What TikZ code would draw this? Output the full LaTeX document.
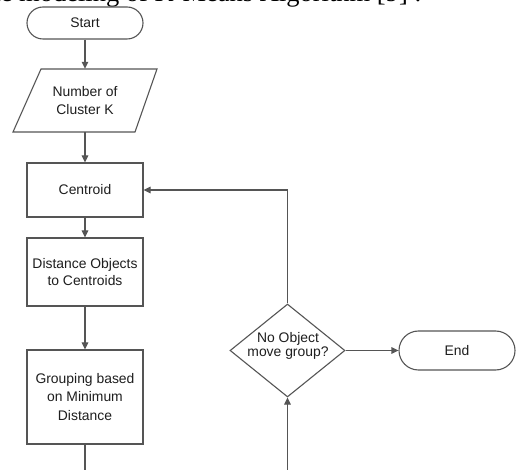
\documentclass[tikz,border=0pt]{standalone}
\usepackage{fontspec}
\setmainfont{Liberation Sans}
\newfontfamily\headfont{Liberation Serif}
\usetikzlibrary{arrows.meta,shapes.geometric,shapes.misc}
\definecolor{linec}{HTML}{555555}
\definecolor{textc}{HTML}{1E1E1E}
\begin{document}
\begin{tikzpicture}[x=1pt,y=-1pt,
  every node/.style={text=textc, font=\fontsize{13.9}{17.5}\selectfont},
  shapebox/.style={draw=linec, line width=1.1pt, inner sep=0pt},
  procbox/.style={shapebox, rectangle, minimum width=116pt, align=center},
  termbox/.style={shapebox, rounded rectangle, minimum width=116pt},
  conn/.style={draw=linec, line width=1.1pt},
  arr/.style={conn, -{Triangle[length=7pt,width=6.5pt]}}]
\useasboundingbox (0,0) rectangle (517,470);
\clip (0,0) rectangle (517,470);
\fill[white] (0,0) rectangle (517,470);
% clipped caption line
\node[anchor=base east, inner sep=0pt, text=black, font=\headfont\fontsize{26.5}{30}\selectfont] (caption) at (422,2) {The modeling of K-Means Algorithm [9] :};
% nodes
\node[termbox, minimum height=32pt] (start) at (85,23) {Start};
\node[inner sep=0pt, minimum height=63pt, minimum width=100pt, align=center] (num) at (85,100.5) {Number of\\Cluster K};
\draw[conn] (13,132) -- (41,69) -- (157,69) -- (135,132) -- cycle;
\node[procbox, minimum height=54pt] (cen) at (85,190) {Centroid};
\node[procbox, minimum height=68pt] (dist) at (85,272) {Distance Objects\\to Centroids};
\node[procbox, minimum height=94pt, font=\fontsize{13.9}{18.5}\selectfont] (grp) at (85,397) {Grouping based\\on Minimum\\Distance};
\node[shapebox, diamond, minimum width=115pt, minimum height=93pt] (dec) at (287.5,350.5) {};
\node[align=center, inner sep=0pt, font=\fontsize{13.9}{13.5}\selectfont] (dectext) at (288,346) {No Object\\move group?};
\node[termbox, minimum height=39pt] (end) at (457,350.5) {End};
\coordinate (gb) at (85,475);
\coordinate (db) at (287.5,475);
% connectors
\draw[arr] (start.south) -- (num.north);
\draw[arr] (num.south) -- (cen.north);
\draw[arr] (cen.south) -- (dist.north);
\draw[arr] (dist.south) -- (grp.north);
\draw[conn] (grp.south) -- (gb);
\draw[arr] (db) -- (dec.south);
\draw[arr] (dec.north) |- (cen.east);
\draw[arr] (dec.east) -- (end.west);
\end{tikzpicture}
\end{document}
